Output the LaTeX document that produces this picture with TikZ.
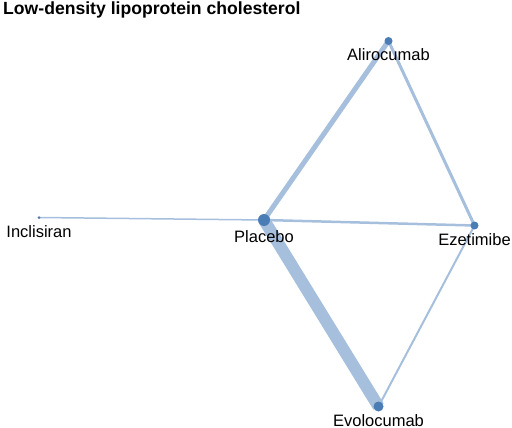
\documentclass[tikz,border=0pt]{standalone}
\usepackage{fontspec}
\setmainfont{Liberation Sans}
\usetikzlibrary{backgrounds}
\definecolor{edgeblue}{HTML}{A5BFDD}
\definecolor{nodeblue}{HTML}{4A7DB5}

\begin{document}
\begin{tikzpicture}[x=1pt,y=-1pt,
        trt/.style={circle,fill=nodeblue,inner sep=0pt},
        lbl/.style={anchor=base,inner sep=0pt,font=\fontsize{16.5}{18}\selectfont},
        link/.style={draw=edgeblue}
      ]
      \useasboundingbox (0,0) rectangle (512,428);
      \node[anchor=base west,inner sep=0pt,font=\fontsize{17.6}{20}\selectfont\bfseries] (title) at (3,15) {Low-density lipoprotein cholesterol};
      % Treatments.
      \node[trt,minimum size=12pt] (pla) at (264,220) {};
      \node[trt,minimum size=8pt] (ali) at (388.5,41) {};
      \node[trt,minimum size=8pt] (eze) at (474.5,225.5) {};
      \node[trt,minimum size=3pt] (inc) at (39,217.5) {};
      \node[trt,minimum size=10pt] (evo) at (378.5,406.5) {};
      % Connections.
      \begin{scope}[on background layer]
        \path[link,line width=12pt] (pla.center) -- (evo.center);
        \path[link,line width=5pt] (pla.center) -- (ali.center);
        \path[link,line width=2.5pt] (pla.center) -- (eze.center);
        \path[link,line width=1.5pt] (pla.center) -- (inc.center);
        \path[link,line width=3pt] (ali.center) -- (eze.center);
        \path[link,line width=2pt] (eze.center) -- (evo.center);
      \end{scope}
      % Labels.
      \node[lbl] (pla-l) at ([yshift=-22pt]pla.center) {Placebo};
      \node[lbl] (ali-l) at ([yshift=-19.5pt]ali.center) {Alirocumab};
      \node[lbl] (eze-l) at ([yshift=-20pt]eze.center) {Ezetimibe};
      \node[lbl] (inc-l) at ([yshift=-19.5pt]inc.center) {Inclisiran};
      \node[lbl] (evo-l) at ([yshift=-19.5pt]evo.center) {Evolocumab};
    \end{tikzpicture}
\end{document}
